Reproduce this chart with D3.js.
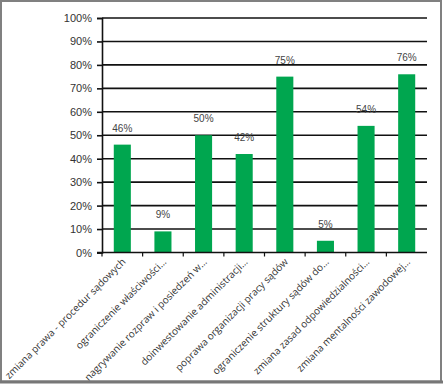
<!DOCTYPE html>
<html>
<head>
<meta charset="utf-8">
<script src="https://cdn.jsdelivr.net/npm/d3@7"></script>
<style>
  body { margin: 0; background: #fff; }
  svg { display: block; }
</style>
</head>
<body>
<div id="chart"></div>
<script>
const categories = [
    'zmiana prawa - procedur sądowych',
    'ograniczenie właściwości…',
    'nagrywanie rozpraw i posiedzeń w…',
    'doinwestowanie administracji…',
    'poprawa organizacji pracy sądów',
    'ograniczenie struktury sądów do…',
    'zmiana zasad odpowiedzialności…',
    'zmiana mentalności zawodowej…'
];
const values = [46, 9, 50, 42, 75, 5, 54, 76];
const yTicks = [0, 10, 20, 30, 40, 50, 60, 70, 80, 90, 100];

const width = 443, height = 384;
const margin = { left: 102, right: 16, top: 18, bottom: 131.5 };

const svg = d3.select('#chart')
    .append('svg')
    .attr('width', width)
    .attr('height', height);

const x = d3.scaleBand()
    .domain(categories)
    .range([margin.left, 427])
    .paddingInner(0.58)
    .paddingOuter(0.29);

const y = d3.scaleLinear()
    .domain([0, 100])
    .range([height - margin.bottom, margin.top]);

// gridlines
svg.append('g')
    .selectAll('line')
    .data(yTicks.filter(d => d > 0))
    .enter().append('line')
    .attr('x1', margin.left)
    .attr('x2', 427)
    .attr('y1', d => y(d))
    .attr('y2', d => y(d))
    .attr('stroke', '#111')
    .attr('stroke-width', 1.6);

// bars
svg.append('g')
    .selectAll('rect')
    .data(values)
    .enter().append('rect')
    .attr('x', (d, i) => x(categories[i]))
    .attr('y', d => y(d))
    .attr('width', x.bandwidth())
    .attr('height', d => y(0) - y(d))
    .attr('fill', '#00a64f');

// value labels
svg.append('g')
    .selectAll('text')
    .data(values)
    .enter().append('text')
    .attr('x', (d, i) => x(categories[i]) + x.bandwidth() / 2)
    .attr('y', d => y(d) - 13)
    .attr('text-anchor', 'middle')
    .attr('font-family', 'Liberation Sans, Arial, sans-serif')
    .attr('font-size', 10)
    .attr('fill', '#444')
    .text(d => d + '%');

// y axis
const yAxis = svg.append('g')
    .attr('transform', `translate(${margin.left},0)`)
    .call(d3.axisLeft(y).tickValues(yTicks).tickFormat(d => d + '%').tickSize(5).tickPadding(5));
yAxis.select('.domain').attr('stroke', '#111').attr('stroke-width', 1.6);
yAxis.selectAll('.tick line').attr('stroke', '#111').attr('stroke-width', 1.6);
yAxis.selectAll('text')
    .attr('font-family', 'Liberation Sans, Arial, sans-serif')
    .attr('font-size', 11)
    .attr('fill', '#333');

// x axis line + boundary ticks
const xAxis = svg.append('g');
xAxis.append('line')
    .attr('x1', margin.left - 5).attr('x2', 427)
    .attr('y1', y(0)).attr('y2', y(0))
    .attr('stroke', '#111').attr('stroke-width', 1.6);
const step = x.step();
xAxis.selectAll('.xt')
    .data(categories)
    .enter().append('line')
    .attr('x1', (d, i) => margin.left + i * step)
    .attr('x2', (d, i) => margin.left + i * step)
    .attr('y1', y(0))
    .attr('y2', y(0) + 4)
    .attr('stroke', '#111').attr('stroke-width', 1.2);

xAxis.selectAll('.xl')
    .data(categories)
    .enter().append('text')
    .attr('transform', d => `translate(${x(d) + x.bandwidth() / 2 + 4},${y(0) + 10}) rotate(-45)`)
    .attr('text-anchor', 'end')
    .attr('font-family', 'Open Sans, sans-serif')
    .attr('font-size', 10)
    .attr('fill', '#333')
    .text(d => d);

// outer frame (drawn last, over the clipped labels)
svg.append('rect')
    .attr('x', 1).attr('y', 1)
    .attr('width', width - 3).attr('height', height - 3.5)
    .attr('fill', 'none')
    .attr('stroke', '#808080')
    .attr('stroke-width', 2);
svg.append('line')
    .attr('x1', 0).attr('x2', width)
    .attr('y1', 382).attr('y2', 382)
    .attr('stroke', '#777').attr('stroke-width', 3);
</script>
</body>
</html>
